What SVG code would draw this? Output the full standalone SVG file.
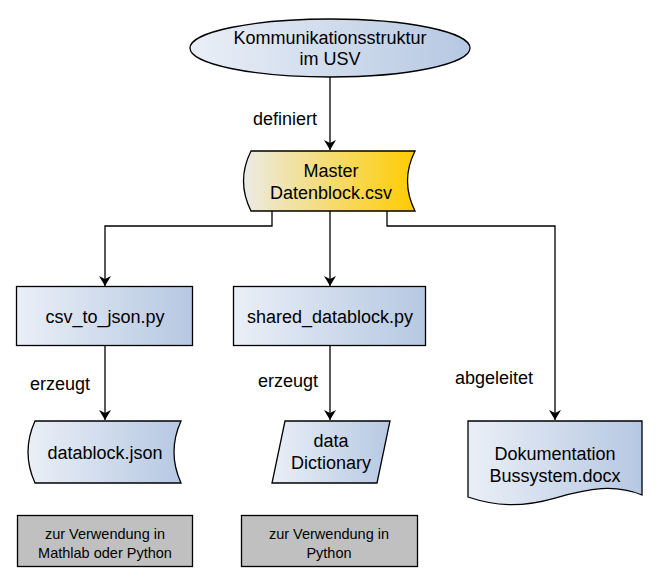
<svg xmlns="http://www.w3.org/2000/svg" width="658" height="583" viewBox="0 0 658 583">
<defs>
<linearGradient id="blue" x1="0" y1="0" x2="1" y2="0">
<stop offset="0" stop-color="#eaeff7"/>
<stop offset="1" stop-color="#b6c8e2"/>
</linearGradient>
<linearGradient id="gold" x1="0" y1="0" x2="1" y2="0">
<stop offset="0" stop-color="#ebebe6"/>
<stop offset="1" stop-color="#ffcc00"/>
</linearGradient>
<marker id="arr" viewBox="0 0 10 12" refX="10" refY="6" markerWidth="10" markerHeight="12" markerUnits="userSpaceOnUse" orient="auto">
<path d="M0,0 L10,6 L0,12 L3,6 Z" fill="#000"/>
</marker>
</defs>
<style>
.sh{stroke:#000;stroke-width:1.3;}
.t{font-family:"Liberation Sans",Arial,sans-serif;font-size:18px;fill:#000;text-anchor:middle;}
.s{font-family:"Liberation Sans",Arial,sans-serif;font-size:14.5px;fill:#000;text-anchor:middle;}
.l{font-family:"Liberation Sans",Arial,sans-serif;font-size:18px;fill:#000;}
.c{fill:none;stroke:#000;stroke-width:1.3;}
</style>
<rect width="658" height="583" fill="#fff"/>
<g id="connectors">
<path class="c" d="M330,77 V150" marker-end="url(#arr)"/>
<path class="c" d="M272,211 V226 H105 V286" marker-end="url(#arr)"/>
<path class="c" d="M330,211 V286" marker-end="url(#arr)"/>
<path class="c" d="M387,211 V226 H555 V420" marker-end="url(#arr)"/>
<path class="c" d="M105,346 V420" marker-end="url(#arr)"/>
<path class="c" d="M330,346 V420" marker-end="url(#arr)"/>
<text class="l" x="253" y="125">definiert</text>
<text class="l" x="30" y="390">erzeugt</text>
<text class="l" x="258" y="387">erzeugt</text>
<text class="l" x="455" y="384">abgeleitet</text>
</g>
<g id="kommunikation">
<ellipse class="sh" cx="330" cy="48" rx="140" ry="29" fill="url(#blue)"/>
<text class="t" x="330" y="44">Kommunikationsstruktur</text>
<text class="t" x="330" y="65">im USV</text>
</g>
<g id="master">
<path class="sh" fill="url(#gold)" d="M251,151 L415,151 Q400,181 415,211 L251,211 Q236,181 251,151 Z"/>
<text class="t" x="331" y="177">Master</text>
<text class="t" x="331" y="199">Datenblock.csv</text>
</g>
<g id="csv_to_json">
<rect class="sh" x="16.5" y="286.5" width="176" height="59" fill="url(#blue)"/>
<text class="t" x="105" y="323">csv_to_json.py</text>
</g>
<g id="shared_datablock">
<rect class="sh" x="233.5" y="286.5" width="192" height="59" fill="url(#blue)"/>
<text class="t" x="330" y="323">shared_datablock.py</text>
</g>
<g id="datablock_json">
<path class="sh" fill="url(#blue)" d="M35,421 L181,421 Q167,452 181,483 L35,483 Q21,452 35,421 Z"/>
<text class="t" x="105" y="459">datablock.json</text>
</g>
<g id="data_dictionary">
<path class="sh" fill="url(#blue)" d="M285,421 L390,421 L377,483 L272,483 Z"/>
<text class="t" x="331" y="447">data</text>
<text class="t" x="331" y="469">Dictionary</text>
</g>
<g id="dokumentation">
<path class="sh" fill="url(#blue)" d="M468,421 L642,421 L642,495 C615,484 590,488 555,498 C520,508 495,506 468,497 Z"/>
<text class="t" x="555" y="460">Dokumentation</text>
<text class="t" x="555" y="482">Bussystem.docx</text>
</g>
<g id="note1">
<rect class="sh" x="17.5" y="515.5" width="175" height="51" fill="#c0c0c0"/>
<text class="s" x="105" y="539">zur Verwendung in</text>
<text class="s" x="105" y="558">Mathlab oder Python</text>
</g>
<g id="note2">
<rect class="sh" x="241.5" y="515.5" width="176" height="51" fill="#c0c0c0"/>
<text class="s" x="329" y="539">zur Verwendung in</text>
<text class="s" x="329" y="558">Python</text>
</g>
</svg>
